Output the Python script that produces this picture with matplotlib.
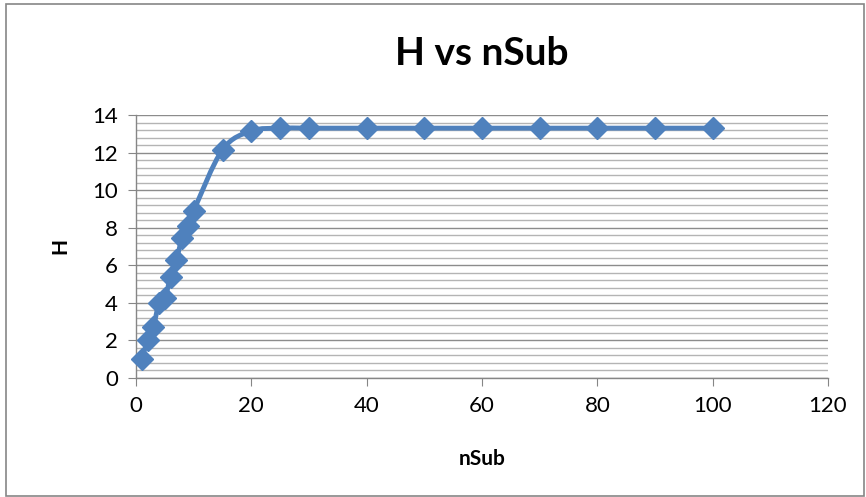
import matplotlib.pyplot as plt
import numpy as np
from matplotlib.patches import PathPatch, Rectangle
from matplotlib.path import Path
from matplotlib.ticker import MultipleLocator

plt.rcParams['font.family'] = ['Lato', 'DejaVu Sans']

n_sub = [1, 2, 3, 4, 5, 6, 7, 8, 9, 10, 15, 20, 25, 30, 40, 50, 60, 70, 80, 90, 100]
h_vals = [1.0, 2.0, 2.7, 4.0, 4.25, 5.4, 6.3, 7.45, 8.1, 8.9, 12.15, 13.15,
          13.3, 13.3, 13.3, 13.3, 13.3, 13.3, 13.3, 13.3, 13.3]

BLUE = '#4F81BD'


def smooth_path(x, y, t=1 / 6):
    # Excel-style smoothed line as cubic Bezier segments
    x = np.asarray(x, float)
    y = np.asarray(y, float)
    verts = [(x[0], y[0])]
    codes = [Path.MOVETO]
    n = len(x)
    for i in range(n - 1):
        p0 = np.array([x[max(i - 1, 0)], y[max(i - 1, 0)]])
        p1 = np.array([x[i], y[i]])
        p2 = np.array([x[i + 1], y[i + 1]])
        p3 = np.array([x[min(i + 2, n - 1)], y[min(i + 2, n - 1)]])
        c1 = p1 + (p2 - p0) * t
        c2 = p2 - (p3 - p1) * t
        verts += [tuple(c1), tuple(c2), tuple(p2)]
        codes += [Path.CURVE4] * 3
    return Path(verts, codes)


fig = plt.figure(figsize=(8.66, 4.97), dpi=100)
ax = fig.add_axes([136 / 866, 1 - 378 / 497, (828 - 136) / 866, (378 - 115) / 497])

ax.set_xlim(0, 120)
ax.set_ylim(0, 14)
ax.xaxis.set_major_locator(MultipleLocator(20))
ax.yaxis.set_major_locator(MultipleLocator(2))
ax.yaxis.set_minor_locator(MultipleLocator(0.4))

ax.grid(axis='y', which='major', color='#8c8c8c', lw=1.0)
ax.grid(axis='y', which='minor', color='#b4b4b4', lw=1.0)
ax.set_axisbelow(True)

for s in ['top', 'right']:
    ax.spines[s].set_visible(False)
for s in ['left', 'bottom']:
    ax.spines[s].set_color('#868686')
    ax.spines[s].set_linewidth(1.0)

ax.tick_params(axis='both', which='major', direction='out', length=6,
               color='#868686', labelsize=16, pad=7)
ax.tick_params(axis='y', which='minor', length=0)

ax.add_patch(PathPatch(smooth_path(n_sub, h_vals), fill=False, edgecolor=BLUE,
                       lw=3.5, zorder=3, capstyle='round', joinstyle='round'))
ax.plot(n_sub, h_vals, ls='none', marker='D', ms=11, color=BLUE, zorder=4,
        clip_on=False)

ax.set_title('H vs nSub', fontsize=28, fontweight='bold', pad=36)
ax.set_xlabel('nSub', fontsize=15, fontweight='bold', labelpad=24)
ax.set_ylabel('H', fontsize=15, fontweight='bold', labelpad=16)

# chart border
fig.patches.append(Rectangle((6 / 866, 1 - 496 / 497), 858 / 866, 492 / 497,
                             transform=fig.transFigure, fill=False,
                             edgecolor='#868686', lw=1.2))

fig.savefig('out.png', dpi=100)
